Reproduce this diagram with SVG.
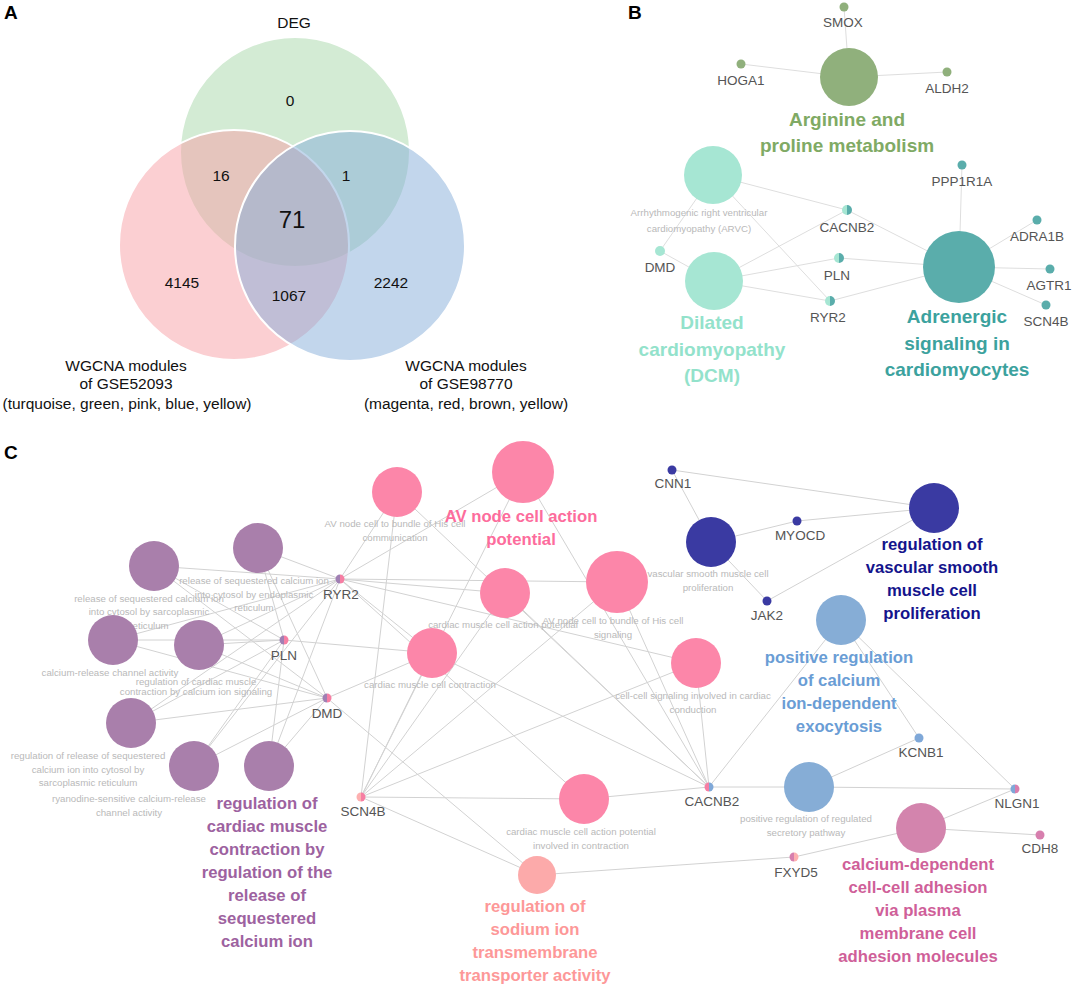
<svg xmlns="http://www.w3.org/2000/svg" width="1072" height="985" viewBox="0 0 1072 985">
<style>
text{font-family:"Liberation Sans",Arial,Helvetica,sans-serif}
.pl{font-weight:bold;font-size:19px;fill:#000}
.v{font-size:15.5px;fill:#111;text-anchor:middle}
.g{font-size:13.5px;fill:#555;text-anchor:middle}
.s{font-size:9.7px;fill:#b9b9b9;text-anchor:middle}
.t{font-weight:bold;font-size:19px;text-anchor:middle}
.tc{font-weight:bold;font-size:16.7px;text-anchor:middle}
.eb line{stroke:#dedede;stroke-width:1}
.ec line{stroke:#d2d2d2;stroke-width:1}
.pur{fill:#a97fab}.pnk{fill:#fc86a9}.nav{fill:#3a3aa2}.lbl{fill:#86add6}.mag{fill:#d384ad}.sal{fill:#fcaaaa}
.gp{fill:#a07fb3}.gk{fill:#f67ea3}.gs{fill:#fdb0b0}.gb{fill:#7fa8d8}.gm{fill:#d77fae}
.ggr{fill:#90b07c}.gaq{fill:#a6e6d3}.gtl{fill:#5aadab}
</style>

<!-- Panel A: Venn -->
<g id="panelA">
  <text class="pl" x="4" y="19">A</text>
  <g id="venn-deg"><circle cx="295" cy="152" r="115" fill="#a8d8aa" fill-opacity="0.5" stroke="#fff" stroke-width="2"/></g>
  <g id="venn-gse52093"><circle cx="234" cy="245" r="115" fill="#f8a0a5" fill-opacity="0.5" stroke="#fff" stroke-width="2"/></g>
  <g id="venn-gse98770"><circle cx="350" cy="246" r="115" fill="#85add9" fill-opacity="0.5" stroke="#fff" stroke-width="2"/></g>
  <text class="v" x="294" y="28">DEG</text>
  <text class="v" x="290" y="106">0</text>
  <text class="v" x="221" y="181">16</text>
  <text class="v" x="346" y="181">1</text>
  <text class="v" x="292" y="228" style="font-size:24px">71</text>
  <text class="v" x="182" y="288">4145</text>
  <text class="v" x="289" y="301">1067</text>
  <text class="v" x="391" y="288">2242</text>
  <text class="v" x="126" y="371">WGCNA modules</text>
  <text class="v" x="126" y="389">of GSE52093</text>
  <text class="v" x="127" y="409">(turquoise, green, pink, blue, yellow)</text>
  <text class="v" x="466" y="371">WGCNA modules</text>
  <text class="v" x="466" y="389">of GSE98770</text>
  <text class="v" x="466" y="409">(magenta, red, brown, yellow)</text>
</g>

<!-- Panel B -->
<text class="pl" x="628" y="19">B</text>
<g id="edgesB" class="eb">
  <line x1="844" y1="7" x2="849" y2="77"/>
  <line x1="741" y1="64" x2="849" y2="77"/>
  <line x1="947" y1="72" x2="849" y2="77"/>
  <line x1="713" y1="175" x2="660" y2="251"/>
  <line x1="713" y1="175" x2="847" y2="210"/>
  <line x1="713" y1="175" x2="830" y2="301"/>
  <line x1="660" y1="251" x2="714" y2="281"/>
  <line x1="714" y1="281" x2="847" y2="210"/>
  <line x1="714" y1="281" x2="839" y2="258"/>
  <line x1="714" y1="281" x2="830" y2="301"/>
  <line x1="847" y1="210" x2="959" y2="267"/>
  <line x1="839" y1="258" x2="959" y2="267"/>
  <line x1="830" y1="301" x2="959" y2="267"/>
  <line x1="962" y1="165" x2="959" y2="267"/>
  <line x1="1037" y1="220" x2="959" y2="267"/>
  <line x1="1050" y1="269" x2="959" y2="267"/>
  <line x1="1046" y1="305" x2="959" y2="267"/>
</g>
<g id="b-arginine"><circle class="ggr" cx="849" cy="77" r="29"/>
  <text class="t" x="847" y="126" fill="#80aa64">Arginine and</text>
  <text class="t" x="847" y="152" fill="#80aa64">proline metabolism</text></g>
<g id="b-smox"><circle class="ggr" cx="844" cy="7" r="4.5"/><text class="g" x="843" y="27">SMOX</text></g>
<g id="b-hoga1"><circle class="ggr" cx="741" cy="64" r="4.5"/><text class="g" x="741" y="85">HOGA1</text></g>
<g id="b-aldh2"><circle class="ggr" cx="947" cy="72" r="4.5"/><text class="g" x="947" y="93">ALDH2</text></g>
<g id="b-arvc"><circle class="gaq" cx="713" cy="175" r="29"/>
  <text class="s" x="699" y="216">Arrhythmogenic right ventricular</text>
  <text class="s" x="699" y="232">cardiomyopathy (ARVC)</text></g>
<g id="b-dcm"><circle class="gaq" cx="714" cy="281" r="29"/>
  <text class="t" x="712" y="329" fill="#93e2cb">Dilated</text>
  <text class="t" x="712" y="356" fill="#93e2cb">cardiomyopathy</text>
  <text class="t" x="712" y="382" fill="#93e2cb">(DCM)</text></g>
<g id="b-adrenergic"><circle class="gtl" cx="959" cy="267" r="36"/>
  <text class="t" x="957" y="323" fill="#3ca29e">Adrenergic</text>
  <text class="t" x="957" y="350" fill="#3ca29e">signaling in</text>
  <text class="t" x="957" y="376" fill="#3ca29e">cardiomyocytes</text></g>
<g id="b-dmd"><circle class="gaq" cx="660" cy="251" r="5"/><text class="g" x="660" y="272">DMD</text></g>
<g id="b-cacnb2"><path class="gaq" d="M847 205A5 5 0 0 0 847 215Z"/><path class="gtl" d="M847 205A5 5 0 0 1 847 215Z"/><text class="g" x="847" y="232">CACNB2</text></g>
<g id="b-pln"><path class="gaq" d="M839 253A5 5 0 0 0 839 263Z"/><path class="gtl" d="M839 253A5 5 0 0 1 839 263Z"/><text class="g" x="837" y="280">PLN</text></g>
<g id="b-ryr2"><path class="gaq" d="M830 296A5 5 0 0 0 830 306Z"/><path class="gtl" d="M830 296A5 5 0 0 1 830 306Z"/><text class="g" x="828" y="322">RYR2</text></g>
<g id="b-ppp1r1a"><circle class="gtl" cx="962" cy="165" r="4.5"/><text class="g" x="962" y="186">PPP1R1A</text></g>
<g id="b-adra1b"><circle class="gtl" cx="1037" cy="220" r="4.5"/><text class="g" x="1037" y="241">ADRA1B</text></g>
<g id="b-agtr1"><circle class="gtl" cx="1050" cy="269" r="4.5"/><text class="g" x="1049" y="290">AGTR1</text></g>
<g id="b-scn4b"><circle class="gtl" cx="1046" cy="305" r="4.5"/><text class="g" x="1046" y="326">SCN4B</text></g>

<!-- Panel C -->
<text class="pl" x="4" y="459">C</text>
<g id="edgesC" class="ec">
  <line x1="154" y1="566" x2="340" y2="579"/><line x1="154" y1="566" x2="284" y2="640"/><line x1="154" y1="566" x2="327" y2="698"/>
  <line x1="258" y1="548" x2="340" y2="579"/><line x1="258" y1="548" x2="284" y2="640"/><line x1="258" y1="548" x2="327" y2="698"/>
  <line x1="113" y1="640" x2="340" y2="579"/><line x1="113" y1="640" x2="284" y2="640"/><line x1="113" y1="640" x2="327" y2="698"/>
  <line x1="199" y1="645" x2="340" y2="579"/><line x1="199" y1="645" x2="284" y2="640"/><line x1="199" y1="645" x2="327" y2="698"/>
  <line x1="131" y1="723" x2="340" y2="579"/><line x1="131" y1="723" x2="284" y2="640"/><line x1="131" y1="723" x2="327" y2="698"/>
  <line x1="194" y1="766" x2="340" y2="579"/><line x1="194" y1="766" x2="284" y2="640"/><line x1="194" y1="766" x2="327" y2="698"/>
  <line x1="269" y1="766" x2="340" y2="579"/><line x1="269" y1="766" x2="284" y2="640"/><line x1="269" y1="766" x2="327" y2="698"/>
  <line x1="397" y1="492" x2="340" y2="579"/><line x1="397" y1="492" x2="361" y2="797"/><line x1="397" y1="492" x2="709" y2="787"/>
  <line x1="523" y1="472" x2="340" y2="579"/><line x1="523" y1="472" x2="361" y2="797"/><line x1="523" y1="472" x2="709" y2="787"/>
  <line x1="505" y1="593" x2="340" y2="579"/><line x1="505" y1="593" x2="361" y2="797"/><line x1="505" y1="593" x2="709" y2="787"/>
  <line x1="617" y1="582" x2="340" y2="579"/><line x1="617" y1="582" x2="361" y2="797"/><line x1="617" y1="582" x2="709" y2="787"/>
  <line x1="432" y1="653" x2="340" y2="579"/><line x1="432" y1="653" x2="361" y2="797"/><line x1="432" y1="653" x2="709" y2="787"/>
  <line x1="432" y1="653" x2="284" y2="640"/><line x1="432" y1="653" x2="327" y2="698"/>
  <line x1="696" y1="663" x2="340" y2="579"/><line x1="696" y1="663" x2="361" y2="797"/><line x1="696" y1="663" x2="709" y2="787"/>
  <line x1="584" y1="799" x2="340" y2="579"/><line x1="584" y1="799" x2="361" y2="797"/><line x1="584" y1="799" x2="709" y2="787"/>
  <line x1="537" y1="875" x2="361" y2="797"/><line x1="537" y1="875" x2="327" y2="698"/><line x1="537" y1="875" x2="794" y2="857"/>
  <line x1="672" y1="470" x2="711" y2="542"/><line x1="672" y1="470" x2="934" y2="508"/>
  <line x1="797" y1="521" x2="711" y2="542"/><line x1="797" y1="521" x2="934" y2="508"/>
  <line x1="767" y1="601" x2="711" y2="542"/><line x1="767" y1="601" x2="934" y2="508"/>
  <line x1="841" y1="620" x2="709" y2="787"/><line x1="841" y1="620" x2="919" y2="738"/><line x1="841" y1="620" x2="1015" y2="789"/>
  <line x1="809" y1="787" x2="709" y2="787"/><line x1="809" y1="787" x2="919" y2="738"/><line x1="809" y1="787" x2="1015" y2="789"/>
  <line x1="921" y1="828" x2="1015" y2="789"/><line x1="921" y1="828" x2="1040" y2="835"/><line x1="921" y1="828" x2="794" y2="857"/>
</g>

<!-- purple terms -->
<g id="c-p1"><circle class="pur" cx="154" cy="566" r="25"/>
  <text class="s" x="149" y="602">release of sequestered calcium ion</text>
  <text class="s" x="149" y="615">into cytosol by sarcoplasmic</text>
  <text class="s" x="149" y="629">reticulum</text></g>
<g id="c-p2"><circle class="pur" cx="258" cy="548" r="25"/>
  <text class="s" x="254" y="584">release of sequestered calcium ion</text>
  <text class="s" x="254" y="598">into cytosol by endoplasmic</text>
  <text class="s" x="254" y="611">reticulum</text></g>
<g id="c-p3"><circle class="pur" cx="113" cy="640" r="25"/>
  <text class="s" x="110" y="676">calcium-release channel activity</text></g>
<g id="c-p4"><circle class="pur" cx="199" cy="645" r="25"/>
  <text class="s" x="196" y="685">regulation of cardiac muscle</text>
  <text class="s" x="196" y="695">contraction by calcium ion signaling</text></g>
<g id="c-p5"><circle class="pur" cx="131" cy="723" r="25"/>
  <text class="s" x="88" y="759">regulation of release of sequestered</text>
  <text class="s" x="88" y="773">calcium ion into cytosol by</text>
  <text class="s" x="88" y="786">sarcoplasmic reticulum</text></g>
<g id="c-p6"><circle class="pur" cx="194" cy="766" r="25"/>
  <text class="s" x="129" y="802">ryanodine-sensitive calcium-release</text>
  <text class="s" x="129" y="816">channel activity</text></g>
<g id="c-p7"><circle class="pur" cx="269" cy="766" r="25"/>
  <text class="tc" fill="#9d62a0" x="267" y="809">regulation of</text>
  <text class="tc" fill="#9d62a0" x="267" y="832">cardiac muscle</text>
  <text class="tc" fill="#9d62a0" x="267" y="855">contraction by</text>
  <text class="tc" fill="#9d62a0" x="267" y="878">regulation of the</text>
  <text class="tc" fill="#9d62a0" x="267" y="901">release of</text>
  <text class="tc" fill="#9d62a0" x="267" y="924">sequestered</text>
  <text class="tc" fill="#9d62a0" x="267" y="947">calcium ion</text></g>

<!-- pink terms -->
<g id="c-k1"><circle class="pnk" cx="397" cy="492" r="25"/>
  <text class="s" x="395" y="527">AV node cell to bundle of His cell</text>
  <text class="s" x="395" y="541">communication</text></g>
<g id="c-k2"><circle class="pnk" cx="523" cy="472" r="31"/>
  <text class="tc" fill="#fd6c9c" x="521" y="522">AV node cell action</text>
  <text class="tc" fill="#fd6c9c" x="521" y="545">potential</text></g>
<g id="c-k3"><circle class="pnk" cx="505" cy="593" r="25"/>
  <text class="s" x="503" y="628">cardiac muscle cell action potential</text></g>
<g id="c-k4"><circle class="pnk" cx="617" cy="582" r="31"/>
  <text class="s" x="613" y="624">AV node cell to bundle of His cell</text>
  <text class="s" x="613" y="638">signaling</text></g>
<g id="c-k5"><circle class="pnk" cx="432" cy="653" r="25"/>
  <text class="s" x="430" y="688">cardiac muscle cell contraction</text></g>
<g id="c-k6"><circle class="pnk" cx="696" cy="663" r="25"/>
  <text class="s" x="693" y="699">cell-cell signaling involved in cardiac</text>
  <text class="s" x="693" y="713">conduction</text></g>
<g id="c-k7"><circle class="pnk" cx="584" cy="799" r="25"/>
  <text class="s" x="581" y="835">cardiac muscle cell action potential</text>
  <text class="s" x="581" y="849">involved in contraction</text></g>

<!-- salmon term -->
<g id="c-sodium"><circle class="sal" cx="537" cy="875" r="19"/>
  <text class="tc" fill="#fd9898" x="535" y="912">regulation of</text>
  <text class="tc" fill="#fd9898" x="535" y="935">sodium ion</text>
  <text class="tc" fill="#fd9898" x="535" y="958">transmembrane</text>
  <text class="tc" fill="#fd9898" x="535" y="981">transporter activity</text></g>

<!-- navy terms -->
<g id="c-n1"><circle class="nav" cx="711" cy="542" r="25"/>
  <text class="s" x="708" y="577">vascular smooth muscle cell</text>
  <text class="s" x="708" y="591">proliferation</text></g>
<g id="c-n2"><circle class="nav" cx="934" cy="508" r="25"/>
  <text class="tc" fill="#14148c" x="932" y="550">regulation of</text>
  <text class="tc" fill="#14148c" x="932" y="573">vascular smooth</text>
  <text class="tc" fill="#14148c" x="932" y="596">muscle cell</text>
  <text class="tc" fill="#14148c" x="932" y="619">proliferation</text></g>

<!-- light blue terms -->
<g id="c-l1"><circle class="lbl" cx="841" cy="620" r="25"/>
  <text class="tc" fill="#6a9dd5" x="839" y="663">positive regulation</text>
  <text class="tc" fill="#6a9dd5" x="839" y="686">of calcium</text>
  <text class="tc" fill="#6a9dd5" x="839" y="709">ion-dependent</text>
  <text class="tc" fill="#6a9dd5" x="839" y="732">exocytosis</text></g>
<g id="c-l2"><circle class="lbl" cx="809" cy="787" r="25"/>
  <text class="s" x="806" y="822">positive regulation of regulated</text>
  <text class="s" x="806" y="836">secretory pathway</text></g>

<!-- magenta term -->
<g id="c-m"><circle class="mag" cx="921" cy="828" r="25"/>
  <text class="tc" fill="#cf5f99" x="918" y="870">calcium-dependent</text>
  <text class="tc" fill="#cf5f99" x="918" y="893">cell-cell adhesion</text>
  <text class="tc" fill="#cf5f99" x="918" y="916">via plasma</text>
  <text class="tc" fill="#cf5f99" x="918" y="939">membrane cell</text>
  <text class="tc" fill="#cf5f99" x="918" y="962">adhesion molecules</text></g>

<!-- genes C -->
<g id="c-ryr2"><path class="gp" d="M340 574.5A4.5 4.5 0 0 0 340 583.5Z"/><path class="gk" d="M340 574.5A4.5 4.5 0 0 1 340 583.5Z"/><text class="g" x="341" y="599">RYR2</text></g>
<g id="c-pln"><path class="gp" d="M284 635.5A4.5 4.5 0 0 0 284 644.5Z"/><path class="gk" d="M284 635.5A4.5 4.5 0 0 1 284 644.5Z"/><text class="g" x="284" y="660">PLN</text></g>
<g id="c-dmd"><path class="gp" d="M327 693.5A4.5 4.5 0 0 0 327 702.5Z"/><path class="gk" d="M327 693.5A4.5 4.5 0 0 1 327 702.5Z"/><text class="g" x="327" y="718">DMD</text></g>
<g id="c-scn4b"><path class="gs" d="M361 792.5A4.5 4.5 0 0 0 361 801.5Z"/><path class="gk" d="M361 792.5A4.5 4.5 0 0 1 361 801.5Z"/><text class="g" x="363" y="816">SCN4B</text></g>
<g id="c-cacnb2"><path class="gk" d="M709 782.5A4.5 4.5 0 0 0 709 791.5Z"/><path class="gb" d="M709 782.5A4.5 4.5 0 0 1 709 791.5Z"/><text class="g" x="712" y="806">CACNB2</text></g>
<g id="c-nlgn1"><path class="gb" d="M1015 784.5A4.5 4.5 0 0 0 1015 793.5Z"/><path class="gm" d="M1015 784.5A4.5 4.5 0 0 1 1015 793.5Z"/><text class="g" x="1017" y="808">NLGN1</text></g>
<g id="c-fxyd5"><path class="gm" d="M794 852.5A4.5 4.5 0 0 0 794 861.5Z"/><path class="gs" d="M794 852.5A4.5 4.5 0 0 1 794 861.5Z"/><text class="g" x="796" y="877">FXYD5</text></g>
<g id="c-cnn1"><circle class="nav" cx="672" cy="470" r="4.5"/><text class="g" x="673" y="488">CNN1</text></g>
<g id="c-myocd"><circle class="nav" cx="797" cy="521" r="4.5"/><text class="g" x="800" y="540">MYOCD</text></g>
<g id="c-jak2"><circle class="nav" cx="767" cy="601" r="4.5"/><text class="g" x="767" y="620">JAK2</text></g>
<g id="c-kcnb1"><circle class="gb" cx="919" cy="738" r="4.5"/><text class="g" x="921" y="757">KCNB1</text></g>
<g id="c-cdh8"><circle class="gm" cx="1040" cy="835" r="4.5"/><text class="g" x="1040" y="853">CDH8</text></g>
</svg>
